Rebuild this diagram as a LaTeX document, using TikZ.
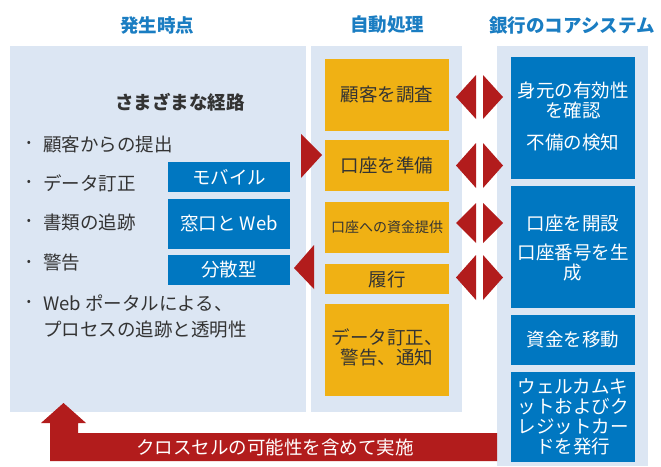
\documentclass[tikz,border=0pt]{standalone}
\usepackage{fontspec}
\newfontfamily\jp{Noto Sans CJK JP}
\definecolor{panelbg}{HTML}{DCE6F3}
\definecolor{boxblue}{HTML}{0077C1}
\definecolor{boxyellow}{HTML}{F0B114}
\definecolor{arrowred}{HTML}{B21C1C}
\definecolor{headblue}{HTML}{1A7DC2}
\definecolor{txtdark}{HTML}{333333}
\tikzset{
  panel/.style={fill=panelbg, draw=none},
  bluebox/.style={fill=boxblue, draw=none},
  yellowbox/.style={fill=boxyellow, draw=none},
  redtri/.style={fill=arrowred, draw=none},
  header/.style={font=\jp\fontsize{18.5}{20}\selectfont\bfseries, text=headblue, inner sep=0pt},
  ltxt/.style={font=\jp\fontsize{18.5}{20}\selectfont, text=txtdark, inner sep=0pt, anchor=west},
  wtxt/.style={font=\jp\fontsize{18.5}{20}\selectfont, text=white, inner sep=0pt, align=center},
  ytxt/.style={font=\jp\fontsize{18.5}{20}\selectfont, text=txtdark, inner sep=0pt, align=center},
  bul/.style={font=\jp\fontsize{12}{12}\selectfont, text=txtdark, inner sep=0pt},
}
\begin{document}
\begin{tikzpicture}[x=1pt,y=-1pt]
\useasboundingbox (0,0) rectangle (661,466);
\fill[white] (0,0) rectangle (661,466);
% panels
\fill[panel] (10,46) rectangle (306,412);
\fill[panel] (311,46) rectangle (462,412);
\fill[panel] (497,46) rectangle (648,466);
% headers
\node[header] (h1) at (157,25) {発生時点};
\node[header] (h2) at (387,25) {自動処理};
\node[header] (h3) at (572,25) {銀行のコアシステム};
% left panel content
\node[font=\jp\fontsize{18.5}{20}\selectfont\bfseries, text=txtdark, inner sep=0pt] (title) at (180,102) {さまざまな経路};
\foreach \yy/\tx [count=\i] in {144/顧客からの提出, 183/データ訂正, 222/書類の追跡, 263/警告, 303/{Web ポータルによる、}}{
  \node[bul] (b\i) at (29,\yy) {•};
  \node[ltxt] (l\i) at (43,\yy) {\tx};
}
\node[ltxt] (l6) at (43,330) {プロセスの追跡と透明性};
% channel boxes
\fill[bluebox] (168,162) rectangle (290,192);
\node[wtxt] (mob) at (229,177) {モバイル};
\fill[bluebox] (168,199) rectangle (290,249);
\node[wtxt] (web) at (229,223) {窓口と Web};
\fill[bluebox] (168,255) rectangle (290,285);
\node[wtxt] (dist) at (229,270) {分散型};
% yellow boxes
\fill[yellowbox] (325,59) rectangle (449,131);
\node[ytxt] (y1) at (387,95) {顧客を調査};
\fill[yellowbox] (325,140) rectangle (449,191);
\node[ytxt] (y2) at (387,165) {口座を準備};
\fill[yellowbox] (325,202) rectangle (449,253);
\node[ytxt, font=\jp\fontsize{14}{16}\selectfont] (y3) at (387,227) {口座への資金提供};
\fill[yellowbox] (325,264) rectangle (449,294);
\node[ytxt] (y4) at (387,279) {履行};
\fill[yellowbox] (325,304) rectangle (449,396);
\node[ytxt] (y5) at (387,347) {データ訂正、\\警告、通知};
% right blue boxes
\fill[bluebox] (511,57) rectangle (635,179);
\node[wtxt] (r1a) at (573,100) {身元の有効性\\を確認};
\node[wtxt] (r1b) at (573,143) {不備の検知};
\fill[bluebox] (511,186) rectangle (635,308);
\node[wtxt] (r2a) at (573,223) {口座を開設};
\node[wtxt] (r2b) at (573,263) {口座番号を生\\成};
\fill[bluebox] (511,315) rectangle (635,365);
\node[wtxt] (r3) at (573,340) {資金を移動};
\fill[bluebox] (511,372) rectangle (635,462);
\node[wtxt] (r4) at (573,417) {ウェルカムキ\\ットおよびク\\レジットカー\\ドを発行};
% red triangles left/middle
\fill[redtri] (301,134) -- (322,155) -- (301,178) -- cycle;
\fill[redtri] (314,245) -- (294,268) -- (314,289) -- cycle;
% double arrows
\foreach \ta/\tb in {75/119, 143/188, 203/243, 255/300}{
  \fill[redtri] (476,\ta) -- (456,{(\ta+\tb)/2}) -- (476,\tb) -- cycle;
  \fill[redtri] (483,\ta) -- (503,{(\ta+\tb)/2}) -- (483,\tb) -- cycle;
}
% bottom arrow
\fill[redtri] (50,461) -- (50,423) -- (41,423) -- (63.5,403) -- (86,423) -- (78,423) -- (78,433) -- (497,433) -- (497,461) -- cycle;
\node[wtxt] (cross) at (275,447) {クロスセルの可能性を含めて実施};
\end{tikzpicture}
\end{document}
